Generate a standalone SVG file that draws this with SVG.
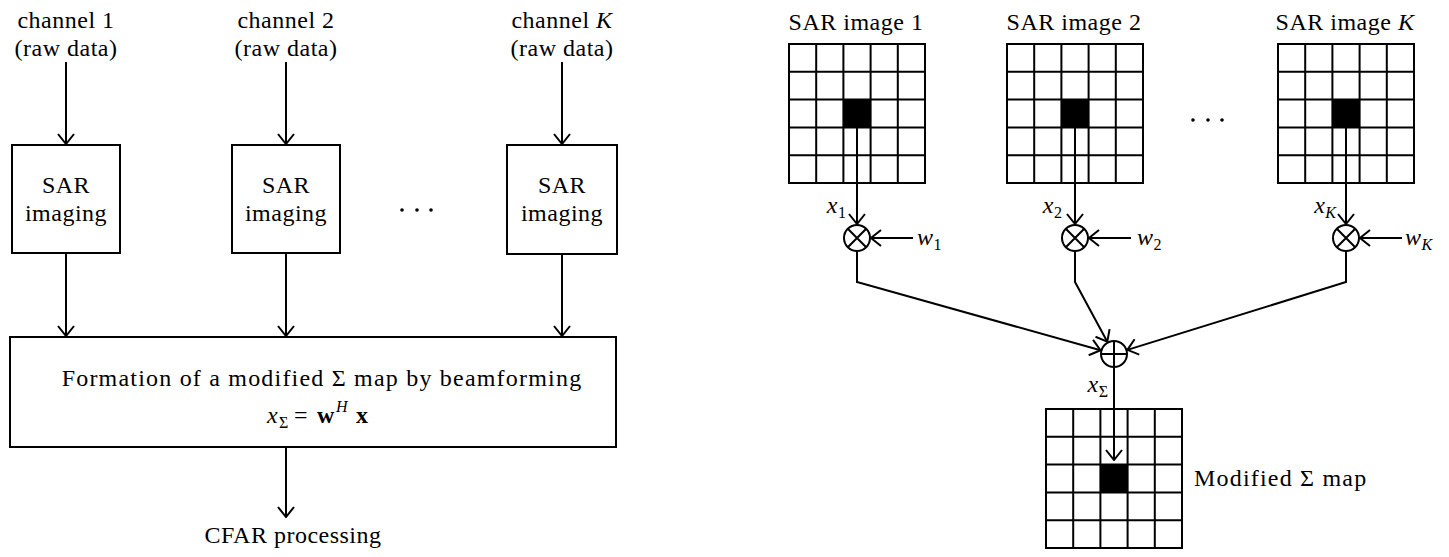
<svg xmlns="http://www.w3.org/2000/svg" xmlns:xlink="http://www.w3.org/1999/xlink" width="1449" height="557" viewBox="0 0 1449 557">
<style>
  text { font-family: "Liberation Serif", "Times New Roman", serif; font-size: 24px; fill: #000; letter-spacing: 0.5px; }
  .big { letter-spacing: 1.2px; }
  .it { font-style: italic; }
  .up { font-style: normal; }
  .bf { font-weight: bold; }
  .sub { font-size: 16px; letter-spacing: 0; }
  .box { fill: #fff; stroke: #000; stroke-width: 2; }
  .ln { fill: none; stroke: #000; stroke-width: 2; }
  .arr { fill: none; stroke: #000; stroke-width: 2; marker-end: url(#ah); }
  .dot { fill: #000; }
</style>
<defs>
  <marker id="ah" viewBox="0 0 12 18" refX="11" refY="9" markerWidth="12" markerHeight="18" orient="auto" markerUnits="userSpaceOnUse">
    <path d="M1,1 L11,9 L1,17" fill="none" stroke="#000" stroke-width="2"/>
  </marker>
  <g id="grid">
    <rect x="0" y="0" width="136" height="139" class="box"/>
    <rect x="54.4" y="55.6" width="27.2" height="27.8" fill="#000"/>
    <path class="ln" d="M27.2,0V139M54.4,0V139M81.6,0V139M108.8,0V139M0,27.8H136M0,55.6H136M0,83.4H136M0,111.2H136"/>
  </g>
  <g id="mult">
    <circle cx="0" cy="0" r="13" class="box"/>
    <path class="ln" d="M-9.2,-9.2L9.2,9.2M-9.2,9.2L9.2,-9.2"/>
  </g>
</defs>
<rect width="1449" height="557" fill="#fff"/>

<!-- Left diagram -->
<g id="ch1-label">
  <text x="66" y="28" text-anchor="middle">channel 1</text>
  <text x="66" y="56" text-anchor="middle">(raw data)</text>
</g>
<g id="ch2-label">
  <text x="286" y="28" text-anchor="middle">channel 2</text>
  <text x="286" y="56" text-anchor="middle">(raw data)</text>
</g>
<g id="chK-label">
  <text x="562" y="28" text-anchor="middle">channel <tspan class="it">K</tspan></text>
  <text x="562" y="56" text-anchor="middle">(raw data)</text>
</g>
<g id="sar1">
  <rect x="12" y="145" width="108" height="108" class="box"/>
  <text x="66" y="193" text-anchor="middle">SAR</text>
  <text x="66" y="221" text-anchor="middle">imaging</text>
</g>
<g id="sar2">
  <rect x="232" y="145" width="108" height="108" class="box"/>
  <text x="286" y="193" text-anchor="middle">SAR</text>
  <text x="286" y="221" text-anchor="middle">imaging</text>
</g>
<g id="sarK">
  <rect x="507" y="145" width="110" height="109" class="box"/>
  <text x="562" y="193" text-anchor="middle">SAR</text>
  <text x="562" y="221" text-anchor="middle">imaging</text>
</g>
<g id="dots-left">
  <circle cx="402" cy="210" r="1.8" class="dot"/>
  <circle cx="417" cy="210" r="1.8" class="dot"/>
  <circle cx="431" cy="210" r="1.8" class="dot"/>
</g>
<g id="beamforming">
  <rect x="10" y="337" width="606" height="110" class="box"/>
  <text x="322" y="386" text-anchor="middle" class="big">Formation of a modified Σ map by beamforming</text>
  <text y="423"><tspan x="267" class="it">x</tspan><tspan x="279" y="428" class="sub">Σ</tspan><tspan x="294" y="423">=</tspan><tspan x="317" class="bf">w</tspan><tspan x="336" y="412" class="sub it">H</tspan><tspan x="356" y="423" class="bf">x</tspan></text>
</g>
<g id="cfar">
  <text x="293" y="543" text-anchor="middle">CFAR processing</text>
</g>

<!-- Right diagram -->
<g id="img1">
  <text x="856" y="30" text-anchor="middle">SAR image 1</text>
  <use xlink:href="#grid" x="789" y="44"/>
</g>
<g id="img2">
  <text x="1074" y="30" text-anchor="middle">SAR image 2</text>
  <use xlink:href="#grid" x="1007" y="44"/>
</g>
<g id="imgK">
  <text x="1345" y="30" text-anchor="middle">SAR image <tspan class="it">K</tspan></text>
  <use xlink:href="#grid" x="1278" y="44"/>
</g>
<g id="dots-right">
  <circle cx="1193" cy="120" r="1.8" class="dot"/>
  <circle cx="1208" cy="120" r="1.8" class="dot"/>
  <circle cx="1222" cy="120" r="1.8" class="dot"/>
</g>
<g id="mult1">
  <use xlink:href="#mult" x="857" y="238"/>
  <text x="846" y="213" text-anchor="end"><tspan class="it">x</tspan><tspan class="sub up" dy="5">1</tspan></text>
  <text x="917" y="245"><tspan class="it">w</tspan><tspan class="sub up" dy="5">1</tspan></text>
</g>
<g id="mult2">
  <use xlink:href="#mult" x="1075" y="238"/>
  <text x="1062" y="213" text-anchor="end"><tspan class="it">x</tspan><tspan class="sub up" dy="5">2</tspan></text>
  <text x="1137" y="245"><tspan class="it">w</tspan><tspan class="sub up" dy="5">2</tspan></text>
</g>
<g id="multK">
  <use xlink:href="#mult" x="1346" y="238"/>
  <text x="1336" y="213" text-anchor="end"><tspan class="it">x</tspan><tspan class="sub it" dy="5">K</tspan></text>
  <text x="1405" y="245"><tspan class="it">w</tspan><tspan class="sub it" dy="5">K</tspan></text>
</g>
<g id="sum">
  <circle cx="1114" cy="354" r="13" class="box"/>
  <path class="ln" d="M1101,354H1127M1114,341V367"/>
  <text x="1108" y="392" text-anchor="end"><tspan class="it">x</tspan><tspan class="sub up" dy="5">Σ</tspan></text>
</g>
<g id="sigma-map">
  <use xlink:href="#grid" x="1046" y="409"/>
  <text x="1194" y="486" class="big">Modified Σ map</text>
</g>

<g id="connectors">
  <!-- left -->
  <path class="arr" d="M66,62V144"/>
  <path class="arr" d="M286,62V144"/>
  <path class="arr" d="M562,62V144"/>
  <path class="arr" d="M66,253V336"/>
  <path class="arr" d="M286,253V336"/>
  <path class="arr" d="M562,254V336"/>
  <path class="arr" d="M286,447V517"/>
  <!-- right -->
  <path class="arr" d="M857,113V224"/>
  <path class="arr" d="M1075,113V224"/>
  <path class="arr" d="M1346,113V224"/>
  <path class="arr" d="M913,238H871"/>
  <path class="arr" d="M1131,238H1089"/>
  <path class="arr" d="M1402,238H1360"/>
  <path class="arr" d="M857,251V282L1100.5,350.2"/>
  <path class="arr" d="M1075,251V282L1107.3,341.7"/>
  <path class="arr" d="M1346,251V282L1127.4,349.9"/>
  <path class="arr" d="M1114,367V460"/>
</g>
</svg>
